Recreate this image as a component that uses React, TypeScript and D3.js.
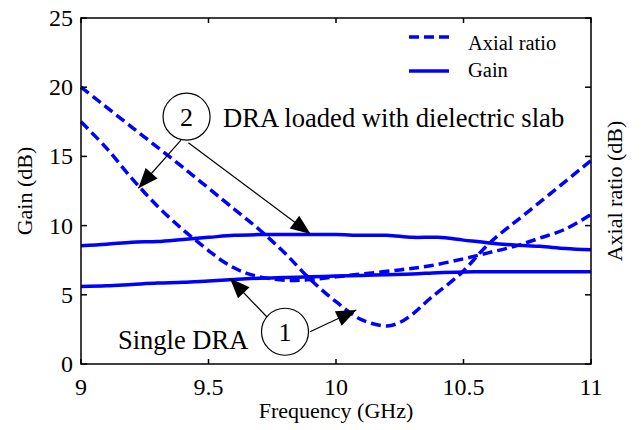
import React from "react";
import * as d3 from "d3";

const freqLoadedAR = [9, 9.1, 9.2, 9.3, 9.4, 9.5, 9.55, 9.6, 9.65, 9.7, 9.8, 9.9, 10, 10.1, 10.25, 10.37, 10.5, 10.6, 10.7, 10.8, 10.9, 11];
const arLoaded = [17.5, 15.6, 13.4, 11.4, 9.7, 8.2, 7.5, 6.95, 6.55, 6.3, 6.05, 6.1, 6.3, 6.5, 6.8, 7.1, 7.6, 8.05, 8.5, 9.1, 9.75, 10.8];

const freqSingleAR = [9, 9.2, 9.4, 9.6, 9.7, 9.8, 9.9, 10, 10.1, 10.2, 10.25, 10.3, 10.37, 10.49, 10.6, 10.76, 11];
const arSingle = [20, 17.1, 14.2, 11.2, 9.7, 8.0, 6.1, 4.5, 3.2, 2.75, 3.0, 3.6, 4.75, 6.55, 8.7, 11.1, 14.7];

const freqGain = [9, 9.1, 9.2, 9.3, 9.4, 9.5, 9.6, 9.7, 9.8, 9.9, 10, 10.1, 10.2, 10.3, 10.4, 10.5, 10.6, 10.7, 10.8, 10.9, 11];
const gainLoaded = [8.55, 8.65, 8.8, 8.85, 9.0, 9.15, 9.3, 9.35, 9.35, 9.35, 9.35, 9.3, 9.3, 9.15, 9.15, 8.95, 8.75, 8.6, 8.5, 8.35, 8.25];
const gainSingle = [5.6, 5.65, 5.75, 5.85, 5.9, 6.0, 6.1, 6.2, 6.25, 6.3, 6.35, 6.4, 6.45, 6.5, 6.6, 6.65, 6.67, 6.67, 6.67, 6.67, 6.67];

const xTicks = [9, 9.5, 10, 10.5, 11];
const xTickLabels = ["9", "9.5", "10", "10.5", "11"];
const yTicks = [0, 5, 10, 15, 20, 25];
const yTickLabels = ["0", "5", "10", "15", "20", "25"];

const legendLabels = ["Axial ratio", "Gain"];

// annotation anchors in data coordinates
const circleLabels = ["2", "1"];
const circleCenters: [number, number][] = [[9.414, 17.87], [9.8, 2.33]];
const arrowStarts: [number, number][] = [[9.392, 16.18], [9.421, 15.98], [9.735, 3.29], [9.898, 2.33]];
const arrowTips: [number, number][] = [[9.225, 12.7], [9.9, 9.39], [9.584, 6.19], [10.08, 3.9]];

const W = 643, H = 430;
const L = 81, R = 591, T = 18, B = 364;
const BLUE = "#0000ff";
const FONT = "Liberation Serif, Times New Roman, DejaVu Serif, serif";

export default function App() {
  const x = d3.scaleLinear().domain([9, 11]).range([L, R]);
  const y = d3.scaleLinear().domain([0, 25]).range([B, T]);
  const line = d3.line<[number, number]>().x(d => x(d[0])).y(d => y(d[1])).curve(d3.curveCatmullRom.alpha(0.5));
  const zip = (a: number[], b: number[]) => a.map((v, i) => [v, b[i]] as [number, number]);

  const series = [
    { d: zip(freqLoadedAR, arLoaded), dash: "10,5" },
    { d: zip(freqSingleAR, arSingle), dash: "10,5" },
    { d: zip(freqGain, gainLoaded), dash: null },
    { d: zip(freqGain, gainSingle), dash: null },
  ];

  const arrowHead = (sx: number, sy: number, tx: number, ty: number) => {
    const dx = tx - sx, dy = ty - sy;
    const len = Math.hypot(dx, dy);
    const ux = dx / len, uy = dy / len;
    const hl = 20, hw = 8;
    const bx = tx - ux * hl, by = ty - uy * hl;
    return `M${tx},${ty}L${bx - uy * hw},${by + ux * hw}L${bx + uy * hw},${by - ux * hw}Z`;
  };

  const ts = { fontFamily: FONT };

  return (
    <svg width={W} height={H} style={{ position: "absolute", left: 0, top: 0, background: "#fff", fontFamily: FONT }}>
      <rect x={0} y={0} width={W} height={H} fill="#fff" />
      {series.map((s, i) => (
        <path key={i} d={line(s.d) || ""} fill="none" stroke={BLUE} strokeWidth={3.5}
          strokeDasharray={s.dash || undefined} />
      ))}
      <rect x={L} y={T} width={R - L} height={B - T} fill="none" stroke="#000" strokeWidth={1.5} />
      {xTicks.map((t, i) => (
        <g key={"xt" + i}>
          <line x1={x(t)} x2={x(t)} y1={B} y2={B - 5} stroke="#000" strokeWidth={1.5} />
          <line x1={x(t)} x2={x(t)} y1={T} y2={T + 5} stroke="#000" strokeWidth={1.5} />
          <text style={ts} x={x(t)} y={395} fontSize={24} textAnchor="middle">{xTickLabels[i]}</text>
        </g>
      ))}
      {yTicks.map((t, i) => (
        <g key={"yt" + i}>
          <line x1={L} x2={L + 6} y1={y(t)} y2={y(t)} stroke="#000" strokeWidth={1.5} />
          <line x1={R} x2={R - 6} y1={y(t)} y2={y(t)} stroke="#000" strokeWidth={1.5} />
          <text style={ts} x={73} y={y(t) + 8} fontSize={24} textAnchor="end">{yTickLabels[i]}</text>
        </g>
      ))}
      <text style={ts} x={(L + R) / 2} y={418} fontSize={22} textAnchor="middle">Frequency (GHz)</text>
      <text style={ts} transform={`translate(32,${(T + B) / 2}) rotate(-90)`} fontSize={22} textAnchor="middle">Gain (dB)</text>
      <text style={ts} transform={`translate(622,${(T + B) / 2}) rotate(-90)`} fontSize={22} textAnchor="middle">Axial ratio (dB)</text>
      <line x1={409} x2={449} y1={37} y2={37} stroke={BLUE} strokeWidth={3.5} strokeDasharray="10,5" />
      <text style={ts} x={468} y={50} fontSize={20.5}>{legendLabels[0]}</text>
      <line x1={409} x2={449} y1={71} y2={71} stroke={BLUE} strokeWidth={3.5} />
      <text style={ts} x={468} y={77} fontSize={20.5}>{legendLabels[1]}</text>
      {arrowStarts.map((s, i) => {
        const sx = x(s[0]), sy = y(s[1]);
        const tx = x(arrowTips[i][0]), ty = y(arrowTips[i][1]);
        return (
          <g key={"ar" + i}>
            <line x1={sx} y1={sy} x2={tx} y2={ty} stroke="#000" strokeWidth={1.2} />
            <path d={arrowHead(sx, sy, tx, ty)} fill="#000" />
          </g>
        );
      })}
      {circleCenters.map((c, i) => (
        <g key={"c" + i}>
          <circle cx={x(c[0])} cy={y(c[1])} r={23.5} fill="#fff" stroke="#000" strokeWidth={1.2} />
          <text style={ts} x={x(c[0])} y={y(c[1]) + 9} fontSize={26} textAnchor="middle">{circleLabels[i]}</text>
        </g>
      ))}
      <text style={ts} x={223} y={127} fontSize={26.6}>DRA loaded with dielectric slab</text>
      <text style={ts} x={118} y={349} fontSize={26.5}>Single DRA</text>
    </svg>
  );
}
